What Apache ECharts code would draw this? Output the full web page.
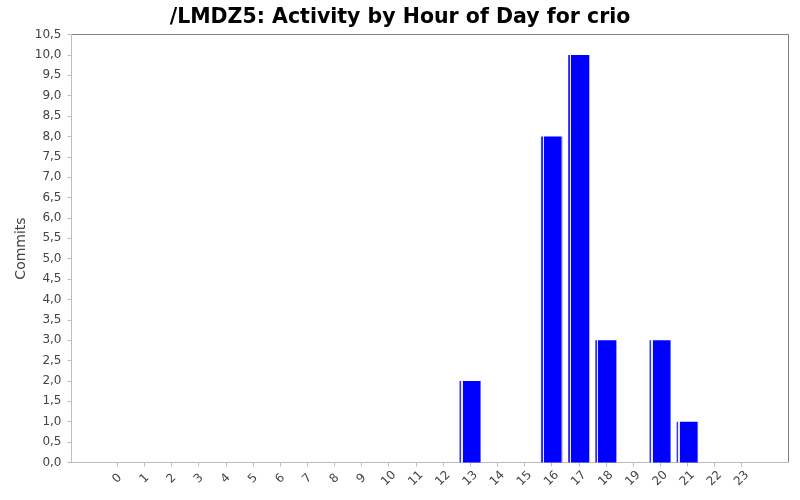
<!DOCTYPE html>
<html><head><meta charset="utf-8">
<script src="https://cdn.jsdelivr.net/npm/echarts@6/dist/echarts.min.js"></script>
</head>
<body style="margin:0;background:#fff">
<div id="c" style="width:800px;height:500px"></div>
<script>
const titleText = '/LMDZ5: Activity by Hour of Day for crio';
const yAxisName = 'Commits';
const hours = ['0','1','2','3','4','5','6','7','8','9','10','11','12','13','14','15','16','17','18','19','20','21','22','23'];
const commits = [0,0,0,0,0,0,0,0,0,0,0,0,0,2,0,0,8,10,3,0,3,1,0,0];
const yMin = 0, yMax = 10.5, yStep = 0.5;

const font = 'DejaVu Sans';
const chart = echarts.init(document.getElementById('c'), null, {renderer: 'canvas'});
const barColor = new echarts.graphic.LinearGradient(0, 0, 1, 0, [
  {offset: 0, color: '#4a4aff'},
  {offset: 0.08, color: '#2222ff'},
  {offset: 0.08, color: '#e8e8ff'},
  {offset: 0.15, color: '#e8e8ff'},
  {offset: 0.15, color: '#0000ff'},
  {offset: 0.96, color: '#0000ff'},
  {offset: 0.96, color: '#5a5aff'},
  {offset: 1, color: '#5a5aff'}
]);
chart.setOption({
  animation: false,
  backgroundColor: '#fff',
  title: {
    text: titleText, left: 'center', top: 2,
    textStyle: {fontFamily: font, fontSize: 20.5, fontWeight: 'bold', color: '#000'}
  },
  grid: [
    {left: 71.5, right: 11.5, top: 34.5, bottom: 37.5, show: true, borderColor: '#808080', borderWidth: 1, backgroundColor: '#fff'},
    {left: 103.7, right: 44.8, top: 34.5, bottom: 37.5}
  ],
  xAxis: [
    {gridIndex: 0, type: 'value', min: 0, max: 1, offset: 4,
     axisLine: {show: true, lineStyle: {color: '#bdbdbd'}}, axisTick: {show: false},
     axisLabel: {show: false}, splitLine: {show: false}},
    {gridIndex: 1, type: 'category', data: hours, offset: 4,
     axisLine: {show: false},
     axisTick: {show: true, alignWithLabel: true, length: 4, lineStyle: {color: '#bdbdbd'}},
     axisLabel: {rotate: 45, margin: 12, align: 'center', verticalAlign: 'middle',
       fontFamily: font, fontSize: 12, color: '#444', interval: 0},
     splitLine: {show: false}}
  ],
  yAxis: [
    {gridIndex: 0, type: 'value', min: yMin, max: yMax, interval: yStep, offset: 4,
     name: yAxisName, nameLocation: 'middle', nameGap: 39, nameRotate: 90, nameMoveOverlap: false,
     nameTextStyle: {fontFamily: font, fontSize: 14, color: '#444'},
     axisLine: {show: true, lineStyle: {color: '#bdbdbd'}},
     axisTick: {show: true, length: 4, lineStyle: {color: '#bdbdbd'}},
     axisLabel: {margin: 6, fontFamily: font, fontSize: 12, color: '#444',
       formatter: v => v.toFixed(1).replace('.', ',')},
     splitLine: {show: false}},
    {gridIndex: 1, type: 'value', min: yMin, max: yMax, show: false, splitLine: {show: false}}
  ],
  series: [{
    type: 'bar', xAxisIndex: 1, yAxisIndex: 1,
    data: commits, barWidth: '79%',
    itemStyle: {color: barColor}
  }]
});
</script>
</body></html>
